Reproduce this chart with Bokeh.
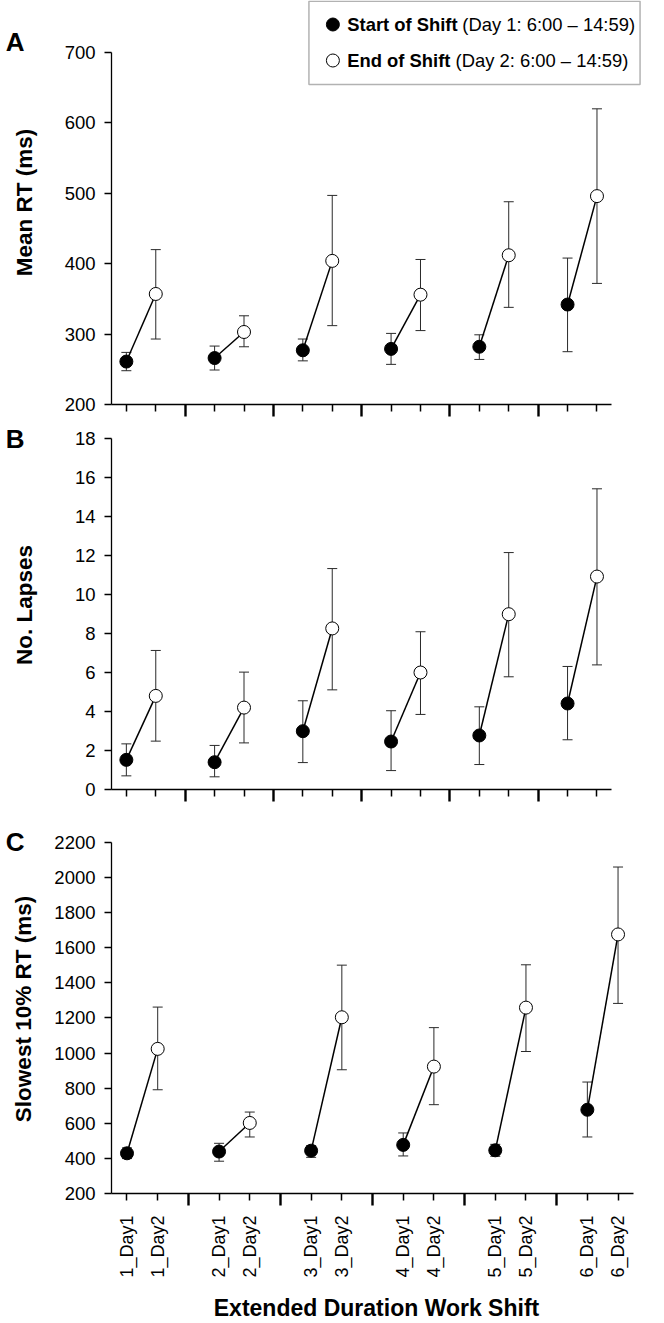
import math
from bokeh.plotting import figure
from bokeh.models import (ColumnDataSource, Whisker, TeeHead, FixedTicker, Label,
                          BoxAnnotation, Range1d, LinearAxis)
from bokeh.layouts import column
from bokeh.embed import file_html
from bokeh.resources import INLINE

# ---------------- data ----------------
shifts = ["1", "2", "3", "4", "5", "6"]
days = ["Day1", "Day2"]

rt_day1 = [261, 266, 277, 279, 282, 342]
rt_day1_lo = [248, 249, 262, 257, 264, 275]
rt_day1_hi = [274, 283, 293, 301, 299, 408]
rt_day2 = [357, 303, 404, 356, 412, 496]
rt_day2_lo = [293, 282, 312, 305, 338, 372]
rt_day2_hi = [420, 326, 497, 406, 488, 620]

lapse_day1 = [1.52, 1.40, 2.99, 2.46, 2.77, 4.41]
lapse_day1_lo = [0.70, 0.65, 1.38, 0.97, 1.28, 2.55]
lapse_day1_hi = [2.34, 2.26, 4.55, 4.04, 4.24, 6.31]
lapse_day2 = [4.80, 4.20, 8.26, 6.00, 8.99, 10.92]
lapse_day2_lo = [2.48, 2.39, 5.11, 3.85, 5.78, 6.39]
lapse_day2_hi = [7.13, 6.02, 11.33, 8.09, 12.15, 15.42]

slow_day1 = [429, 439, 444, 477, 446, 677]
slow_day1_lo = [399, 384, 406, 414, 412, 522]
slow_day1_hi = [460, 486, 473, 545, 480, 835]
slow_day2 = [1024, 602, 1204, 923, 1259, 1676]
slow_day2_lo = [791, 522, 905, 706, 1009, 1283]
slow_day2_hi = [1262, 664, 1501, 1145, 1503, 2060]

rt_ticks = [200, 300, 400, 500, 600, 700]
lapse_ticks = [0, 2, 4, 6, 8, 10, 12, 14, 16, 18]
slow_ticks = [200, 400, 600, 800, 1000, 1200, 1400, 1600, 1800, 2000, 2200]

# ---------------- layout constants ----------------
FONT = "Liberation Sans"
W = 664
FRAME_LEFT = 111
X_PPU = 30.69
X_START = -0.505

x_day1 = [3 * i for i in range(len(shifts))]
x_day2 = [3 * i + 1 for i in range(len(shifts))]
x_sep = [3 * i + 2 for i in range(len(shifts) - 1)]
x_all = sorted(x_day1 + x_day2)
x_labels = {}
for i, s in enumerate(shifts):
    x_labels[x_day1[i]] = f"{s}_{days[0]}"
    x_labels[x_day2[i]] = f"{s}_{days[1]}"


def make_panel(height, frame_h, bbot, bright, ylo, yhi, yticks, ylabel, lstand,
               d1, d1lo, d1hi, d2, d2lo, d2hi, letter, letter_px, xlabels=False):
    ppu_y = frame_h / float(yhi - ylo)
    frame_total = height - bbot
    ytop = ylo + frame_total / ppu_y
    x_end = X_START + (W - bright - FRAME_LEFT) / X_PPU
    p = figure(width=W, height=height, output_backend="svg", toolbar_location=None,
               x_range=Range1d(X_START, x_end), y_range=Range1d(ylo, ytop),
               min_border_left=FRAME_LEFT, min_border_right=bright,
               min_border_top=0, min_border_bottom=bbot)
    p.outline_line_color = None
    p.grid.visible = False
    p.background_fill_color = "white"
    p.border_fill_color = "white"

    ya = p.yaxis[0]
    ya.bounds = (ylo, yhi)
    ya.ticker = FixedTicker(ticks=yticks)
    ya.major_tick_out = 7
    ya.major_tick_in = 0
    ya.minor_tick_out = 0
    ya.minor_tick_in = 0
    ya.axis_line_width = 1.3
    ya.major_tick_line_width = 1.3
    ya.major_label_text_font = FONT
    ya.major_label_text_font_size = "18.5px"
    ya.major_label_text_color = "black"
    ya.major_label_standoff = 9
    ya.axis_label = ylabel
    ya.axis_label_text_font = FONT
    ya.axis_label_text_font_style = "bold"
    ya.axis_label_text_font_size = "22.5px"
    ya.axis_label_text_color = "black"
    ya.axis_label_standoff = lstand

    # panel letter: an outer left axis with one labelled tick
    letter_val = ylo + (frame_total - letter_px) / ppu_y
    la = LinearAxis(ticker=FixedTicker(ticks=[letter_val]),
                    major_label_overrides={letter_val: letter},
                    axis_line_color=None, major_tick_line_color=None,
                    minor_tick_line_color=None, major_tick_out=0, major_tick_in=0,
                    minor_tick_out=0, minor_tick_in=0, major_label_standoff=-16,
                    major_label_text_font=FONT, major_label_text_font_style="bold",
                    major_label_text_font_size="26px", major_label_text_color="black")
    p.add_layout(la, "left")

    xa = p.xaxis[0]
    xa.bounds = (X_START, x_all[-1] + 0.5)
    xa.ticker = FixedTicker(ticks=x_all, minor_ticks=x_sep)
    xa.axis_line_width = 1.3
    xa.major_tick_out = 7
    xa.major_tick_in = 0
    xa.major_tick_line_width = 1.5
    xa.minor_tick_out = 12
    xa.minor_tick_in = 0
    xa.minor_tick_line_width = 2.4
    xa.minor_tick_line_color = "black"
    if xlabels:
        xa.major_label_overrides = x_labels
        xa.major_label_orientation = math.pi / 2
        xa.major_label_text_font = FONT
        xa.major_label_text_font_size = "18px"
        xa.major_label_text_color = "black"
        xa.major_label_standoff = 10
        xa.axis_label = "Extended Duration Work Shift"
        xa.axis_label_text_font = FONT
        xa.axis_label_text_font_style = "bold"
        xa.axis_label_text_font_size = "23px"
        xa.axis_label_text_color = "black"
        xa.axis_label_standoff = 14
    else:
        xa.major_label_overrides = {x: "" for x in x_all}
        xa.major_label_text_font_size = "1px"
        xa.major_label_standoff = 0

    s1 = ColumnDataSource(dict(x=x_day1, y=d1, lo=d1lo, hi=d1hi))
    s2 = ColumnDataSource(dict(x=x_day2, y=d2, lo=d2lo, hi=d2hi))
    for s in (s1, s2):
        w = Whisker(source=s, base="x", upper="hi", lower="lo",
                    line_color="#2a2a2a", line_width=1,
                    upper_head=TeeHead(size=10, line_color="#2a2a2a", line_width=1),
                    lower_head=TeeHead(size=10, line_color="#2a2a2a", line_width=1))
        p.add_layout(w)
    p.segment(x0=x_day1, y0=d1, x1=x_day2, y1=d2, line_color="black", line_width=1.5)
    p.scatter(x="x", y="y", source=s1, size=13, marker="circle",
              fill_color="black", line_color="black", line_width=1)
    p.scatter(x="x", y="y", source=s2, size=13, marker="circle",
              fill_color="white", line_color="black", line_width=1)
    return p


# ---- panel A: canvas 0..420, 700 at y=52, 200 at y=404 ----
pA = make_panel(420, 352, 16, 0, 200, 700, rt_ticks, "Mean RT (ms)", 25,
                rt_day1, rt_day1_lo, rt_day1_hi, rt_day2, rt_day2_lo, rt_day2_hi,
                "A", 41)

# ---- panel B: canvas 420..824, 18 at 438, 0 at 789 ----
pB = make_panel(404, 351, 35, 0, 0, 18, lapse_ticks, "No. Lapses", 35,
                lapse_day1, lapse_day1_lo, lapse_day1_hi,
                lapse_day2, lapse_day2_lo, lapse_day2_hi,
                "B", 12)

# ---- panel C: canvas 824..1323, 2200 at 842, 200 at 1194 ----
pC = make_panel(499, 352, 129, 23, 200, 2200, slow_ticks, "Slowest 10% RT (ms)", 15,
                slow_day1, slow_day1_lo, slow_day1_hi,
                slow_day2, slow_day2_lo, slow_day2_hi,
                "C", 13, xlabels=True)

# ---- legend (drawn in panel A, canvas pixel layout converted to data) ----
A_FRAME_BOTTOM = 404
A_PPU = 352 / 500.0


def cx(px):
    return X_START + (px - FRAME_LEFT) / X_PPU


def cy(py):
    return 200 + (A_FRAME_BOTTOM - py) / A_PPU


pA.add_layout(BoxAnnotation(left=cx(317), right=cx(662.5), top=cy(0.8), bottom=cy(84),
                            fill_color="white", fill_alpha=1,
                            line_color="black", line_width=1.5, level="underlay"))
leg_rows = [24, 60]
pA.scatter(x=[cx(342)], y=[cy(leg_rows[0])], size=13, marker="circle",
           fill_color="black", line_color="black")
pA.scatter(x=[cx(342)], y=[cy(leg_rows[1])], size=13, marker="circle",
           fill_color="white", line_color="black")
legend_bold = ["Start of Shift", "End of Shift"]
legend_reg = ["(Day 1: 6:00 \u2013 14:59)", "(Day 2: 6:00 \u2013 14:59)"]
reg_x = [477, 470]
for i in range(2):
    pA.add_layout(Label(x=cx(357), y=cy(leg_rows[i]), text=legend_bold[i],
                        text_font=FONT, text_font_style="bold", text_font_size="18.4px",
                        text_color="black", text_baseline="middle", text_align="left"))
    pA.add_layout(Label(x=cx(reg_x[i]), y=cy(leg_rows[i]), text=legend_reg[i],
                        text_font=FONT, text_font_size="18.4px",
                        text_color="black", text_baseline="middle", text_align="left"))

layout = column(pA, pB, pC, spacing=0)
open("out.html", "w").write(file_html(layout, INLINE))
